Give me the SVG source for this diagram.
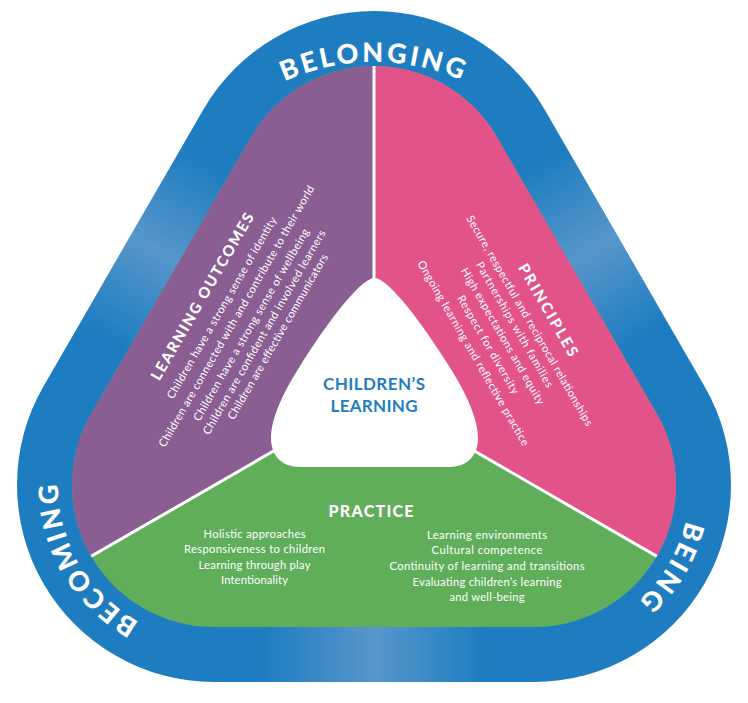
<svg xmlns="http://www.w3.org/2000/svg" width="748" height="703" viewBox="0 0 748 703">
<style>
.t{font-family:Lato,"Open Sans","DejaVu Sans",sans-serif;fill:#ffffff}
.h{font-weight:900;font-size:15px}
.b{font-size:11.2px}
.ring{font-weight:900;font-size:27px;letter-spacing:3px}
.c{font-family:Lato,"Open Sans","DejaVu Sans",sans-serif;fill:#1f7ec1;font-weight:bold;font-size:17px}
.div{stroke:#ffffff;stroke-width:3;fill:none}
</style>
<defs>
<path id="outer" d="M 203.4 109.5 A 197 197 0 0 1 544.6 109.5 L 704.6 386.5 A 197 197 0 0 1 534 682 L 214 682 A 197 197 0 0 1 43.4 386.5 Z"/>
<path id="inner" d="M 251 137 A 142 142 0 0 1 497 137 L 657 414 A 142 142 0 0 1 534 627 L 214 627 A 142 142 0 0 1 91 414 Z"/>
<clipPath id="clipOuter"><use href="#outer"/></clipPath>
<clipPath id="clipInner"><use href="#inner"/></clipPath>
<linearGradient id="hl" x1="0" y1="0" x2="1" y2="0">
<stop offset="0" stop-color="#8fb0d8" stop-opacity="0"/>
<stop offset="0.5" stop-color="#8fb0d8" stop-opacity="0.5"/>
<stop offset="1" stop-color="#8fb0d8" stop-opacity="0"/>
</linearGradient>
<path id="pTop" d="M 233.9 113 A 218 218 0 0 1 514.1 113"/>
<path id="pBec" d="M 186.9 638.6 A 156 156 0 0 1 67.4 431.6"/>
<path id="pBeing" d="M 681.5 434.2 A 156 156 0 0 1 558.4 639.1"/>
</defs>

<g id="ring">
<use href="#outer" fill="#1e7dc0"/>
<g clip-path="url(#clipOuter)">
<rect x="264" y="600" width="220" height="100" fill="url(#hl)"/>
<rect transform="translate(130.5 235) rotate(120)" x="-100" y="-60" width="200" height="70" fill="url(#hl)"/>
</g>
<g transform="translate(748 0) scale(-1 1)" clip-path="url(#clipOuter)">
<rect transform="translate(130.5 235) rotate(120)" x="-100" y="-60" width="200" height="70" fill="url(#hl)"/>
</g>
<text class="t ring" text-anchor="middle"><textPath href="#pTop" startOffset="50%">BELONGING</textPath></text>
<text class="t ring" text-anchor="middle"><textPath href="#pBec" startOffset="50%">BECOMING</textPath></text>
<text class="t ring" text-anchor="middle"><textPath href="#pBeing" startOffset="50%">BEING</textPath></text>
</g>

<g id="sectors">
<use href="#inner" fill="#60ae5a"/>
<g clip-path="url(#clipInner)">
<polygon points="374,393 374,0 0,0 0,609" fill="#8a5d93"/>
<polygon points="374,393 374,0 748,0 748,609" fill="#e2538a"/>
</g>
</g>

<g id="connectors" clip-path="url(#clipInner)">
<line class="div" x1="374" y1="393" x2="374" y2="40"/>
<line class="div" x1="374" y1="393" x2="0" y2="609"/>
<line class="div" x1="374" y1="393" x2="748" y2="609"/>
</g>

<g id="childrens-learning">
<path d="M 374.5 278 C 364 278 338 306 300 366 C 284 391 271 418 271 438 C 271 456 282 467 300 467 L 449 467 C 467 467 478 456 478 438 C 478 418 465 391 449 366 C 411 306 385 278 374.5 278 Z" fill="#ffffff"/>
<text class="c" x="374" y="390" text-anchor="middle" textLength="102">CHILDREN’S</text>
<text class="c" x="374" y="412" text-anchor="middle" textLength="87">LEARNING</text>
</g>

<g id="learning-outcomes" transform="translate(202.5 296.7) rotate(-60)" text-anchor="middle">
<text class="t h" x="0" y="5" textLength="190">LEARNING OUTCOMES</text>
<text class="t b" x="0" y="26" textLength="208">Children have a strong sense of identity</text>
<text class="t b" x="0" y="43" textLength="300">Children are connected with and contribute to their world</text>
<text class="t b" x="0" y="60" textLength="220">Children have a strong sense of wellbeing</text>
<text class="t b" x="0" y="75" textLength="234">Children are confident and involved learners</text>
<text class="t b" x="3" y="89" textLength="189">Children are effective communicators</text>
</g>

<g id="principles" transform="translate(548 310) rotate(60)" text-anchor="middle">
<text class="t h" x="0" y="5" textLength="104">PRINCIPLES</text>
<text class="t b" x="0" y="25" textLength="241">Secure, respectful and reciprocal relationships</text>
<text class="t b" x="-4" y="40" textLength="143">Partnerships with families</text>
<text class="t b" x="0" y="56" textLength="156">High expectations and equity</text>
<text class="t b" x="0" y="73" textLength="112">Respect for diversity</text>
<text class="t b" x="0" y="90" textLength="212">Ongoing learning and reflective practice</text>
</g>

<g id="practice" text-anchor="middle">
<text class="t" x="371" y="517" style="font-weight:900;font-size:16px" textLength="85">PRACTICE</text>
<text class="t b" x="254.5" y="537.5" textLength="102">Holistic approaches</text>
<text class="t b" x="254.5" y="553" textLength="141">Responsiveness to children</text>
<text class="t b" x="254.5" y="568.5" textLength="112">Learning through play</text>
<text class="t b" x="254.5" y="584" textLength="67">Intentionality</text>
<text class="t b" x="487" y="538.5" textLength="120">Learning environments</text>
<text class="t b" x="487" y="554" textLength="111">Cultural competence</text>
<text class="t b" x="487" y="570" textLength="195">Continuity of learning and transitions</text>
<text class="t b" x="487" y="585.5" textLength="149">Evaluating children’s learning</text>
<text class="t b" x="487" y="601" textLength="75">and well-being</text>
</g>
</svg>
